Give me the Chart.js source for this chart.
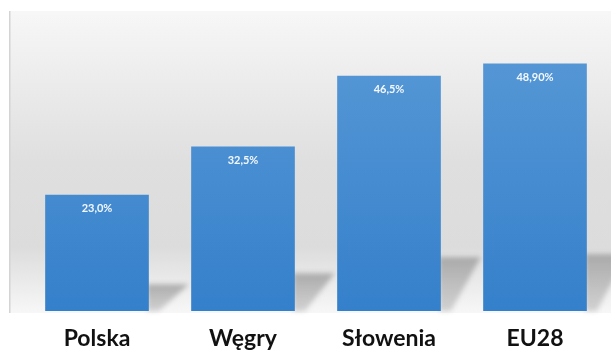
<!DOCTYPE html>
<html>
<head>
<meta charset="utf-8">
<script src="https://cdn.jsdelivr.net/npm/chart.js@4"></script>
<style>
  html, body { margin: 0; padding: 0; background: #fff; }
  #wrap { width: 611px; height: 353px; }
</style>
</head>
<body>
<div id="wrap"><canvas id="chart" width="611" height="353"></canvas></div>
<script>
const countries = ['Polska', 'Węgry', 'Słowenia', 'EU28'];
const shares = [23.0, 32.5, 46.5, 48.9];
const shareLabels = ['23,0%', '32,5%', '46,5%', '48,90%'];

// grey panel behind the bars, with a thin line at its left edge
const panelBg = {
  id: 'panelBg',
  beforeDraw(chart) {
    const { ctx, chartArea: a } = chart;
    const left = a.left - 15, top = a.top - 1.5, bottom = a.bottom + 2, right = chart.width;
    const g = ctx.createLinearGradient(0, top, 0, bottom);
    g.addColorStop(0, '#f7f7f7');
    g.addColorStop(0.5, '#dfdfdf');
    g.addColorStop(0.78, '#dcdcdc');
    g.addColorStop(1, '#f7f7f7');
    ctx.save();
    ctx.fillStyle = g;
    ctx.fillRect(left, top, right - left, bottom - top);
    ctx.fillStyle = '#d4d4d4';
    ctx.fillRect(left, top, 1.5, bottom - top);
    ctx.restore();
  }
};

// soft slanted shadow at the right foot of each bar
const barShadow = {
  id: 'barShadow',
  beforeDatasetsDraw(chart) {
    const { ctx } = chart;
    const meta = chart.getDatasetMeta(0);
    ctx.save();
    ctx.filter = 'blur(2.5px)';
    meta.data.forEach(bar => {
      const right = bar.x + bar.width / 2;
      const h = (bar.base - bar.y) * 0.23;
      const w = 40;
      const g = ctx.createLinearGradient(0, bar.base - h, 0, bar.base);
      g.addColorStop(0, 'rgba(160,160,160,0.85)');
      g.addColorStop(1, 'rgba(185,185,185,0.6)');
      ctx.fillStyle = g;
      ctx.beginPath();
      ctx.moveTo(right - 2, bar.base);
      ctx.lineTo(right - 2, bar.base - h);
      ctx.lineTo(right + w, bar.base - h);
      ctx.lineTo(right + 10, bar.base);
      ctx.closePath();
      ctx.fill();
    });
    ctx.restore();
  }
};

// white value text near the top of each bar
const valueText = {
  id: 'valueText',
  afterDatasetsDraw(chart) {
    const { ctx } = chart;
    const meta = chart.getDatasetMeta(0);
    ctx.save();
    ctx.fillStyle = '#f4f8fc';
    ctx.font = 'bold 11px Lato';
    ctx.textAlign = 'center';
    ctx.textBaseline = 'middle';
    meta.data.forEach((bar, i) => {
      ctx.fillText(shareLabels[i], bar.x, bar.y + 14);
    });
    ctx.restore();
  }
};

const ctx = document.getElementById('chart').getContext('2d');
new Chart(ctx, {
  type: 'bar',
  data: {
    labels: countries,
    datasets: [{
      data: shares,
      backgroundColor: (c) => {
        const a = c.chart.chartArea;
        if (!a) return '#4a8fd2';
        const g = c.chart.ctx.createLinearGradient(0, a.top, 0, a.bottom);
        g.addColorStop(0, '#5b9bd7');
        g.addColorStop(1, '#3580cb');
        return g;
      },
      borderWidth: 0,
      barPercentage: 0.71,
      categoryPercentage: 1
    }]
  },
  options: {
    responsive: false,
    animation: false,
    layout: { padding: { left: 24, right: 3, top: 12.5, bottom: 0 } },
    plugins: {
      legend: { display: false },
      tooltip: { enabled: false }
    },
    scales: {
      y: { display: false, min: 0, max: 59 },
      x: {
        grid: { display: false, drawTicks: false },
        border: { display: false },
        afterFit: (scale) => { scale.height = 42; },
        ticks: {
          color: '#111',
          font: { family: 'Lato', weight: 'bold', size: 23 },
          padding: 14
        }
      }
    }
  },
  plugins: [panelBg, barShadow, valueText]
});
</script>
</body>
</html>
